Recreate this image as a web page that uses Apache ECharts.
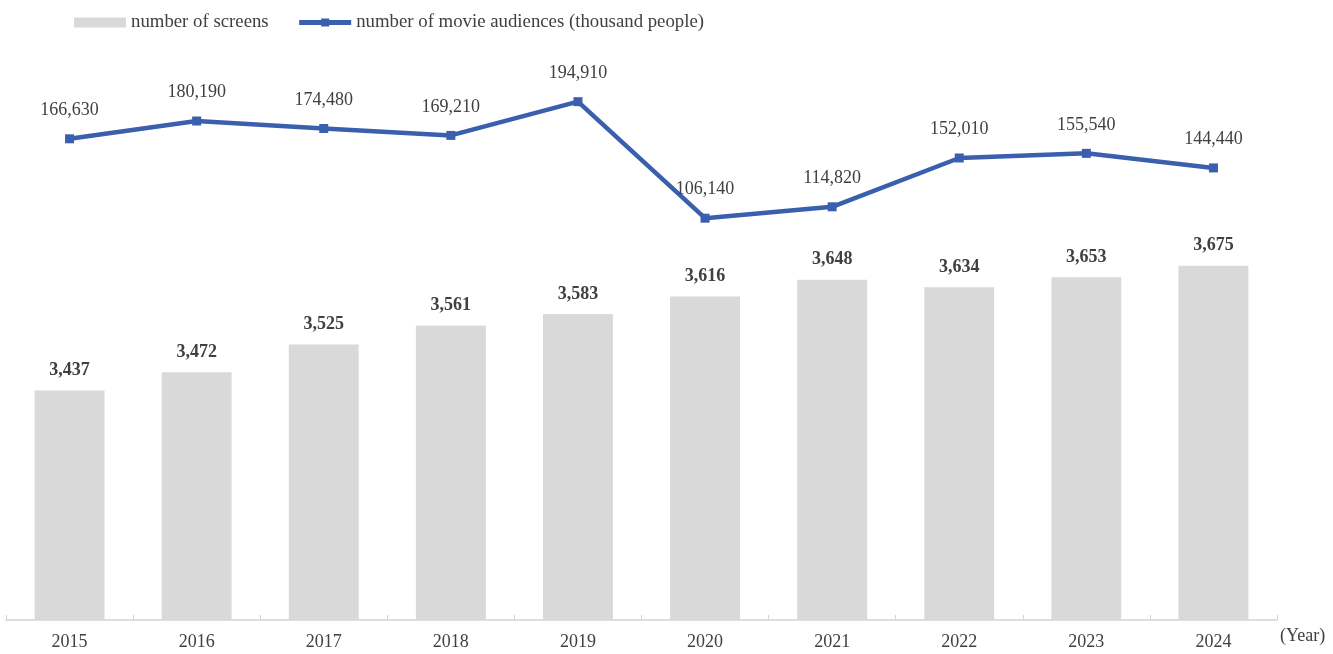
<!DOCTYPE html>
<html>
<head>
<meta charset="utf-8">
<script src="https://cdn.jsdelivr.net/npm/echarts@6/dist/echarts.min.js"></script>
<style>
  html, body { margin: 0; padding: 0; background: #ffffff; }
  #chart { width: 1333px; height: 654px; }
</style>
</head>
<body>
<div id="chart"></div>
<script>
// Years on the category axis
const years = ['2015', '2016', '2017', '2018', '2019', '2020', '2021', '2022', '2023', '2024'];
// Number of cinema screens
const screens = [3437, 3472, 3525, 3561, 3583, 3616, 3648, 3634, 3653, 3675];
// Number of movie audiences (thousand people)
const audiences = [166630, 180190, 174480, 169210, 194910, 106140, 114820, 152010, 155540, 144440];

const FONT = '"Liberation Serif", "Times New Roman", serif';
const TEXT = '#404040';
const BLUE = '#3a5fad';
const fmt = v => v.toLocaleString('en-US');

const chart = echarts.init(document.getElementById('chart'), null, { renderer: 'canvas' });
chart.setOption({
  animation: false,
  backgroundColor: '#ffffff',
  textStyle: { fontFamily: FONT, color: TEXT },
  legend: {
    left: 69,
    top: 8,
    itemGap: 28,
    itemWidth: 52,
    itemHeight: 10,
    textStyle: { fontFamily: FONT, fontSize: 18.8, color: TEXT },
    data: [
      { name: 'number of screens', icon: 'rect' },
      {
        name: 'number of movie audiences (thousand people)',
        lineStyle: { width: 5, color: BLUE },
        itemStyle: { color: BLUE }
      }
    ]
  },
  grid: { left: 6, right: 56, top: 95, bottom: 34, containLabel: false },
  xAxis: {
    type: 'category',
    data: years,
    boundaryGap: true,
    axisLine: { onZero: false, lineStyle: { color: '#d4d4d4', width: 1.5 } },
    axisTick: { show: true, inside: true, length: 5, lineStyle: { color: '#d4d4d4' } },
    axisLabel: { fontFamily: FONT, fontSize: 18, color: TEXT, margin: 13 }
  },
  yAxis: [
    { type: 'value', min: 3000, max: 4000, interval: 250, show: false, splitLine: { show: false } },
    { type: 'value', min: -200000, max: 200000, interval: 100000, show: false, splitLine: { show: false } }
  ],
  series: [
    {
      name: 'number of screens',
      type: 'bar',
      yAxisIndex: 0,
      data: screens,
      barWidth: '55%',
      itemStyle: { color: '#d9d9d9' },
      label: {
        show: true,
        position: 'top',
        distance: 11,
        fontFamily: FONT,
        fontSize: 18,
        fontWeight: 'bold',
        color: TEXT,
        formatter: p => fmt(p.value)
      }
    },
    {
      name: 'number of movie audiences (thousand people)',
      type: 'line',
      yAxisIndex: 1,
      data: audiences,
      symbol: 'rect',
      symbolSize: 9,
      lineStyle: { color: BLUE, width: 4.5 },
      itemStyle: { color: BLUE },
      label: {
        show: true,
        position: 'top',
        distance: 15,
        fontFamily: FONT,
        fontSize: 18,
        color: TEXT,
        formatter: p => fmt(p.value)
      }
    }
  ],
  graphic: [
    {
      type: 'text',
      left: 1280,
      top: 627,
      style: { text: '(Year)', font: '18px ' + FONT, fill: TEXT }
    }
  ]
});
</script>
</body>
</html>
